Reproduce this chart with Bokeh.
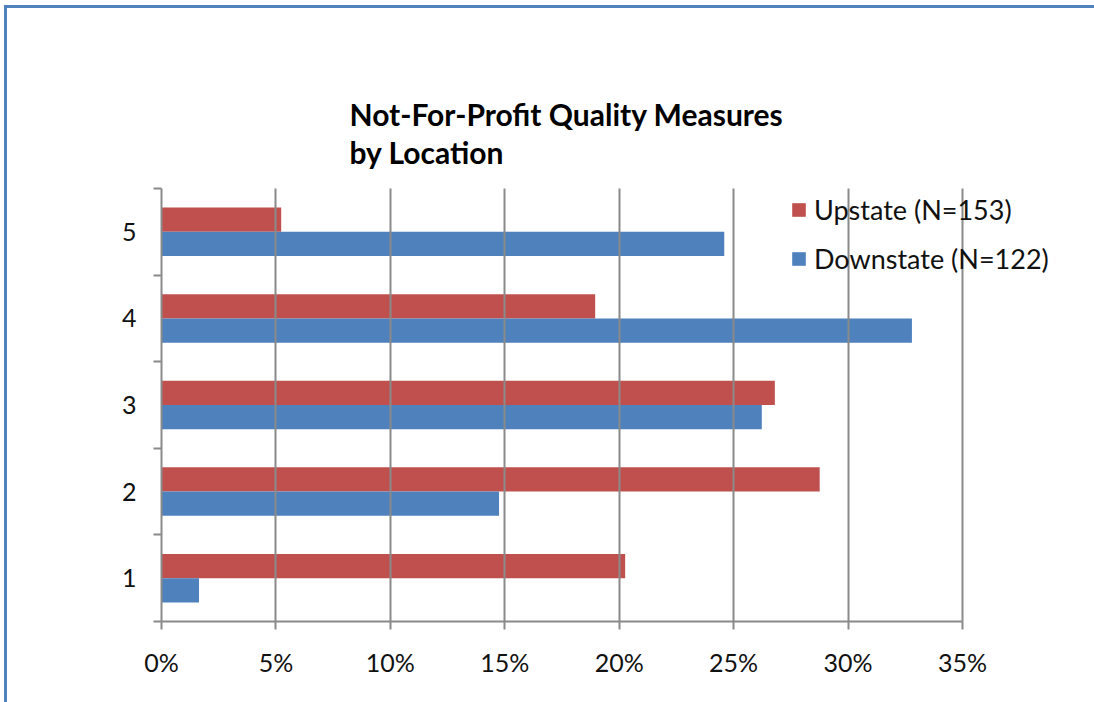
from bokeh.plotting import figure
from bokeh.models import (ColumnDataSource, Range1d, FixedTicker, PrintfTickFormatter, Label)
from bokeh.transform import dodge
from bokeh.embed import file_html
from bokeh.resources import INLINE

# ---- data ----
categories = ["1", "2", "3", "4", "5"]
upstate = [20.26, 28.76, 26.80, 18.95, 5.23]      # % (N=153)
downstate = [1.64, 14.75, 26.23, 32.79, 24.59]    # % (N=122)
x_ticks = [0, 5, 10, 15, 20, 25, 30, 35]
series_names = ["Upstate (N=153)", "Downstate (N=122)"]
title_lines = ["Not-For-Profit Quality Measures", "by Location"]

RED = "#C0504D"
BLUE = "#4F81BD"
GRID = "#8A8A8A"
FONT = "Lato"

W, H = 1094, 702
# plot area of the chart (px): left, right(35%), top(cat 5 edge), bottom
AL, AR, AT, AB = 161, 962, 188, 621
XMAX = x_ticks[-1]
NCAT = len(categories)
# the frame is extended to the right and top so legend/title are not clipped
x_end = XMAX * (W - AL) / (AR - AL)
y_end = NCAT * AB / (AB - AT)

ypos = [i + 0.5 for i in range(NCAT)]
src = ColumnDataSource(dict(y=ypos, up=upstate, down=downstate, cat=categories))

p = figure(width=W, height=H, output_backend="svg", toolbar_location=None,
           title_location=None,
           x_range=Range1d(0, x_end), y_range=Range1d(0, y_end),
           min_border_left=AL, min_border_right=0,
           min_border_top=0, min_border_bottom=H - AB)
p.outline_line_color = None
p.background_fill_color = None
p.border_fill_color = None
p.styles = {"background": ("linear-gradient(#4F81BD,#4F81BD) 4px 5px / 3px 100% no-repeat, "
                           "linear-gradient(#4F81BD,#4F81BD) 4px 5px / 100% 3px no-repeat, white")}

bar_h = 0.28
p.hbar(y=dodge("y", bar_h / 2, range=p.y_range), right="up", left=0, height=bar_h,
       source=src, fill_color=RED, line_color=None, legend_label=series_names[0])
p.hbar(y=dodge("y", -bar_h / 2, range=p.y_range), right="down", left=0, height=bar_h,
       source=src, fill_color=BLUE, line_color=None, legend_label=series_names[1])

# x axis
xa = p.xaxis[0]
xa.bounds = (0, XMAX)
xa.ticker = FixedTicker(ticks=x_ticks, minor_ticks=[])
xa.formatter = PrintfTickFormatter(format="%d%%")
xa.axis_line_color = GRID
xa.axis_line_width = 2
xa.major_tick_line_color = GRID
xa.major_tick_line_width = 2
xa.major_tick_out = 8
xa.major_tick_in = 0
xa.minor_tick_line_color = None
xa.major_label_text_font = FONT
xa.major_label_text_font_size = "25px"
xa.major_label_text_color = "#111111"
xa.major_label_standoff = 17

# y axis: labels at centres, ticks at category boundaries
ya = p.yaxis[0]
ya.bounds = (0, NCAT)
ya.ticker = FixedTicker(ticks=ypos, minor_ticks=list(range(NCAT + 1)))
ya.major_label_overrides = {y: c for y, c in zip(ypos, categories)}
ya.axis_line_color = GRID
ya.axis_line_width = 2
ya.major_tick_line_color = None
ya.major_tick_out = 0
ya.major_tick_in = 0
ya.minor_tick_line_color = GRID
ya.minor_tick_line_width = 2
ya.minor_tick_out = 8
ya.minor_tick_in = 0
ya.major_label_text_font = FONT
ya.major_label_text_font_size = "25px"
ya.major_label_text_color = "#111111"
ya.major_label_standoff = 17

p.ygrid.visible = False
p.xgrid.ticker = FixedTicker(ticks=x_ticks, minor_ticks=[])
p.xgrid.bounds = (0, XMAX)
p.xgrid.cross_bounds = (0, NCAT)
p.xgrid.grid_line_color = GRID
p.xgrid.grid_line_width = 2
p.xgrid.level = "overlay"

# legend
lg = p.legend[0]
lg.location = (629, 346)
lg.padding = 0
lg.margin = 0
lg.border_line_color = None
lg.background_fill_alpha = 0
lg.glyph_width = 17
lg.glyph_height = 17
lg.label_standoff = 7
lg.label_height = 24
lg.spacing = 16
lg.label_text_font = FONT
lg.label_text_font_size = "27px"
lg.label_text_color = "#111111"

# title (two lines)
def px_x(px):
    return (px - AL) * XMAX / (AR - AL)

def px_y(py):
    return (AB - py) * NCAT / (AB - AT)

for line, base in zip(title_lines, [113, 151]):
    p.add_layout(Label(x=px_x(349), y=px_y(base), text=line, text_font=FONT,
                       text_font_size="30px", text_font_style="bold",
                       text_color="#000000", text_baseline="alphabetic"))

open("out.html", "w").write(file_html(p, INLINE))
